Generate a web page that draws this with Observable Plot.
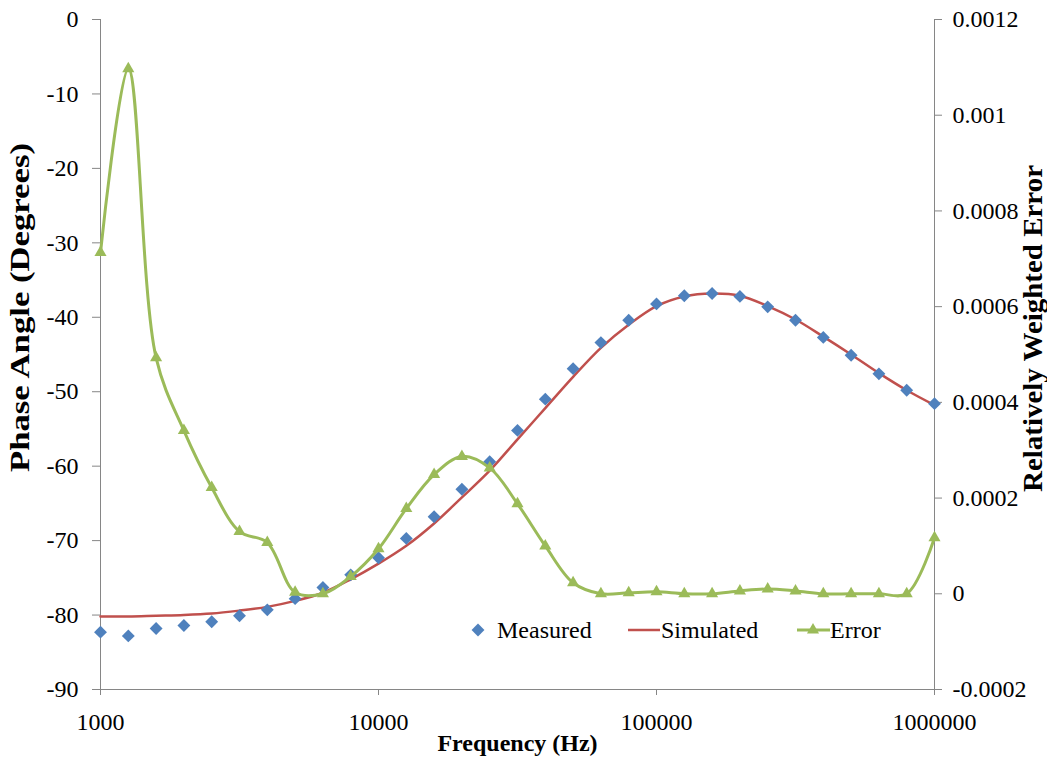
<!DOCTYPE html>
<html><head><meta charset="utf-8">
<script src="https://cdn.jsdelivr.net/npm/d3@7"></script>
<script src="https://cdn.jsdelivr.net/npm/@observablehq/plot@0.6"></script>
<style>
body{margin:0;background:#fff;}
#wrap{position:relative;width:1047px;height:769px;font-family:"Liberation Serif","Times New Roman",serif;}
.leg{position:absolute;font-size:24px;line-height:24px;color:#000;white-space:nowrap;}
.sw{position:absolute;}
</style></head><body><div id="wrap"></div>
<script>
const frequency = [1000, 1259, 1585, 1995, 2512, 3162, 3981, 5012, 6310, 7943,
  10000, 12589, 15849, 19953, 25119, 31623, 39811, 50119, 63096, 79433,
  100000, 125893, 158489, 199526, 251189, 316228, 398107, 501187, 630957, 794328, 1000000];
const measured = [-82.3, -82.8, -81.8, -81.4, -80.9, -80.1, -79.3, -77.8, -76.3, -74.6,
  -72.3, -69.7, -66.8, -63.1, -59.4, -55.2, -51.0, -46.9, -43.4, -40.4,
  -38.2, -37.1, -36.8, -37.2, -38.6, -40.4, -42.7, -45.1, -47.6, -49.8, -51.6];
const simulated = [-80.2, -80.2, -80.1, -80.0, -79.8, -79.4, -78.9, -78.1, -77.0, -75.2,
  -73.1, -70.7, -67.7, -64.2, -60.6, -56.4, -52.2, -48.0, -44.1, -41.0,
  -38.5, -37.2, -36.8, -37.1, -38.5, -40.3, -42.6, -45.0, -47.5, -49.8, -51.8];
const errorValues = [0.000713, 0.001097, 0.000493, 0.000341, 0.000222, 0.000130, 0.000107, 0.000003, 0.0, 0.000036,
  0.000094, 0.000178, 0.000249, 0.000287, 0.000263, 0.000188, 0.000100, 0.000023, 0.0, 0.000002,
  0.000004, 0.0, 0.0, 0.000006, 0.00001, 0.000006, 0.0, 0.0, 0.0, 0.0, 0.000117];
const phaseTicks = [-90, -80, -70, -60, -50, -40, -30, -20, -10, 0];
const errorTicks = [-0.0002, 0, 0.0002, 0.0004, 0.0006, 0.0008, 0.001, 0.0012];
const errorTickLabels = ["-0.0002", "0", "0.0002", "0.0004", "0.0006", "0.0008", "0.001", "0.0012"];
const freqTicks = [1000, 10000, 100000, 1000000];
const seriesNames = ["Measured", "Simulated", "Error"];
const colors = ["#4F81BD", "#C0504D", "#9BBB59"];
const titles = {x: "Frequency (Hz)", yLeft: "Phase Angle (Degrees)", yRight: "Relatively Weighted Error"};

const font = '"Liberation Serif","Times New Roman",serif';
const axisGray = "#868686";
const errToPhase = d3.scaleLinear().domain([-0.0002, 0.0012]).range([-90, 0]);
const rows = frequency.map((f, i) => ({f, m: measured[i], s: simulated[i], e: errToPhase(errorValues[i])}));
const rightTickPos = errorTicks.map(errToPhase);
const rightLabel = new Map(rightTickPos.map((p, i) => [p, errorTickLabels[i]]));

const plot = Plot.plot({
  width: 1047, height: 769,
  marginLeft: 100, marginRight: 113, marginTop: 19, marginBottom: 80,
  style: {fontFamily: font, fontSize: "24px", color: "#000", background: "#fff", overflow: "visible"},
  x: {type: "log", domain: [1000, 1000000]},
  y: {domain: [-90, 0]},
  marks: [
    Plot.ruleX([1000], {stroke: axisGray}),
    Plot.ruleX([1000000], {stroke: axisGray}),
    Plot.ruleY([-90], {stroke: axisGray}),
    Plot.axisX(freqTicks, {tickSize: 6, tickPadding: 17, tickFormat: d => String(d), stroke: axisGray, fill: "#000", label: null, fontSize: 24}),
    Plot.axisY(phaseTicks, {anchor: "left", tickSize: 8, tickPadding: 14, tickFormat: d => String(d), stroke: axisGray, fill: "#000", label: null, fontSize: 24}),
    Plot.axisY(rightTickPos, {anchor: "right", tickSize: 7, tickPadding: 11, tickFormat: d => rightLabel.get(d), stroke: axisGray, fill: "#000", label: null, fontSize: 24}),
    Plot.line(rows, {x: "f", y: "s", stroke: colors[1], strokeWidth: 2.5, curve: "catmull-rom"}),
    Plot.dot(rows, {x: "f", y: "m", symbol: "diamond2", r: 5.8, fill: colors[0], stroke: "none"}),
    Plot.line(rows, {x: "f", y: "e", stroke: colors[2], strokeWidth: 3, curve: "catmull-rom"}),
    Plot.dot(rows, {x: "f", y: "e", symbol: "triangle", r: 4.5, fill: colors[2], stroke: "none"}),
    Plot.text([titles.x], {text: d => d, frameAnchor: "bottom", dy: 61, textAnchor: "middle", fontWeight: "bold", fontSize: 24, fill: "#000"}),
    Plot.text([titles.yLeft], {text: d => d, frameAnchor: "left", textAnchor: "middle", rotate: -90, dx: -80, dy: -47, fontWeight: "bold", fontSize: 27, fill: "#000"}),
    Plot.text([titles.yRight], {text: d => d, frameAnchor: "right", textAnchor: "middle", rotate: -90, dx: 99, dy: -26, fontWeight: "bold", fontSize: 27, fill: "#000"})
  ]
});
d3.select(plot).selectAll("text").filter(function() { return this.textContent === titles.yLeft; })
  .attr("textLength", 329).attr("lengthAdjust", "spacingAndGlyphs");
d3.select(plot).selectAll("text").filter(function() { return this.textContent === titles.yRight; })
  .attr("textLength", 327).attr("lengthAdjust", "spacingAndGlyphs");

const wrap = document.getElementById("wrap");
wrap.appendChild(plot);

// legend
const leg = d3.select(wrap).append("svg").attr("class", "sw")
  .attr("width", 1047).attr("height", 769).style("left", "0px").style("top", "0px").style("pointer-events", "none");
leg.append("path").attr("d", d3.symbol(d3.symbolDiamond2, Math.PI * 5.8 * 5.8)()).attr("transform", "translate(478,630)").attr("fill", colors[0]);
leg.append("line").attr("x1", 628).attr("x2", 660).attr("y1", 630).attr("y2", 630).attr("stroke", colors[1]).attr("stroke-width", 2.5);
leg.append("line").attr("x1", 797).attr("x2", 830).attr("y1", 630).attr("y2", 630).attr("stroke", colors[2]).attr("stroke-width", 3);
leg.append("path").attr("d", d3.symbol(d3.symbolTriangle, Math.PI * 4.5 * 4.5)()).attr("transform", "translate(813,630)").attr("fill", colors[2]);
const legText = [[497, seriesNames[0]], [661, seriesNames[1]], [830, seriesNames[2]]];
legText.forEach(([x, t]) => {
  const s = document.createElement("div");
  s.className = "leg";
  s.style.left = x + "px";
  s.style.top = "618px";
  s.textContent = t;
  wrap.appendChild(s);
});
</script>
</body></html>
